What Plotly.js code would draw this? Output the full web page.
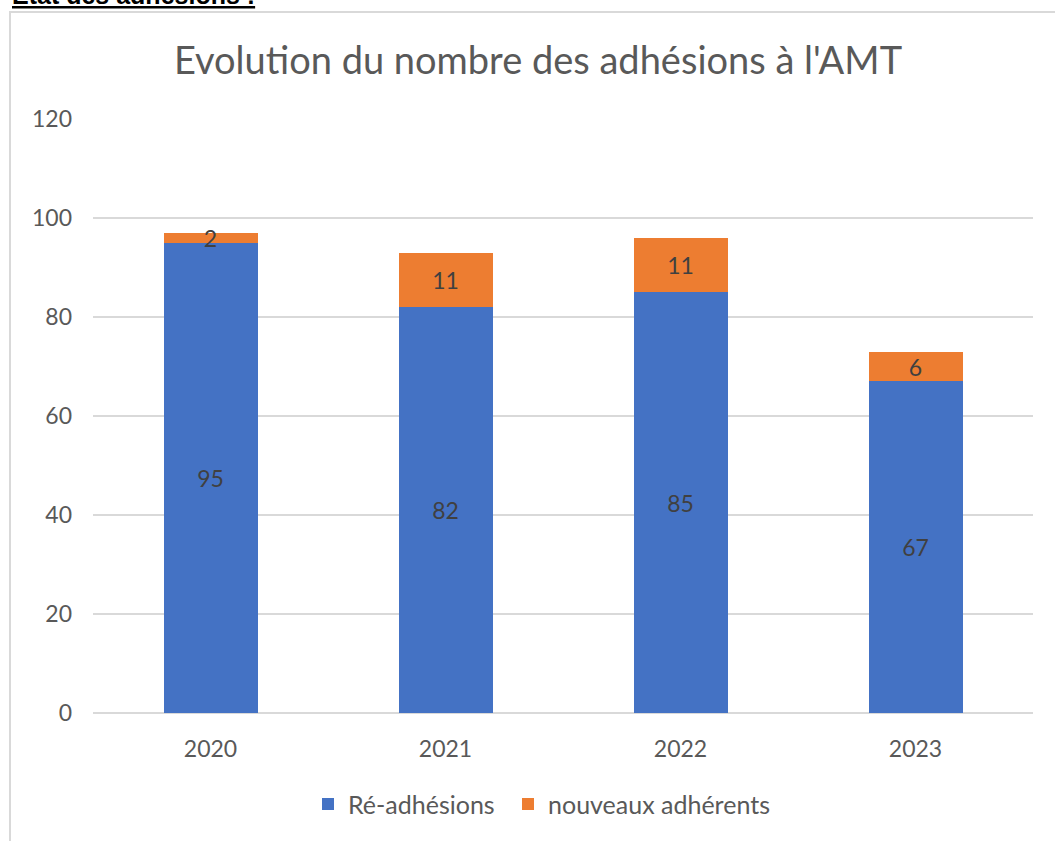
<!DOCTYPE html>
<html>
<head>
<meta charset="utf-8">
<script src="https://cdn.plot.ly/plotly-3.0.1.min.js"></script>
<style>
  html, body { margin: 0; padding: 0; background: #ffffff; }
  #chart { position: absolute; left: 0; top: 0; width: 1055px; height: 841px; }
</style>
</head>
<body>
<div id="chart"></div>
<script>
const years = ['2020', '2021', '2022', '2023'];
const readhesions = [95, 82, 85, 67];
const nouveaux = [2, 11, 11, 6];
const seriesNames = ['Ré-adhésions', 'nouveaux adhérents'];
const chartTitle = "Evolution du nombre des adhésions à l'AMT";
const headerText = 'Etat des adhésions :';
const yTicks = [0, 20, 40, 60, 80, 100, 120];

const FONT = 'Lato, "Open Sans", sans-serif';
const TXT = '#595959';

const traces = [
  {
    type: 'bar', name: seriesNames[0], x: years, y: readhesions,
    marker: { color: '#4472C4' }, legend: 'legend',
    text: readhesions.map(String), textposition: 'inside', insidetextanchor: 'middle',
    textangle: 0,
    textfont: { family: FONT, size: 23, color: '#404040' },
    hoverinfo: 'skip'
  },
  {
    type: 'bar', name: seriesNames[1], x: years, y: nouveaux,
    marker: { color: '#ED7D31' }, legend: 'legend2',
    text: nouveaux.map(String), textposition: 'inside', insidetextanchor: 'middle',
    textangle: 0,
    textfont: { family: FONT, size: 23, color: '#404040' },
    hoverinfo: 'skip'
  }
];

const legendCommon = {
  orientation: 'h', xanchor: 'left', y: -0.115, yanchor: 'top',
  font: { family: FONT, size: 25, color: TXT },
  itemwidth: 30, bgcolor: 'rgba(0,0,0,0)'
};

const layout = {
  width: 1055, height: 841,
  margin: { l: 93, r: 22, t: 119, b: 128 },
  paper_bgcolor: '#ffffff', plot_bgcolor: '#ffffff',
  barmode: 'stack', bargap: 0.6,
  uniformtext: { mode: 'show', minsize: 23 },
  font: { family: FONT, color: TXT, size: 23 },
  title: {
    text: chartTitle,
    font: { family: FONT, size: 38, color: TXT },
    x: 538 / 1055, xanchor: 'center', y: 0.928, yanchor: 'middle'
  },
  xaxis: {
    type: 'category', showgrid: false, zeroline: false,
    showline: false, ticks: '',
    tickfont: { family: FONT, size: 23, color: TXT },
    ticklabelstandoff: 20, fixedrange: true
  },
  yaxis: {
    range: [0, 120], tickvals: yTicks, ticktext: yTicks.map(String),
    showgrid: true, gridcolor: '#D9D9D9', gridwidth: 1.3,
    zeroline: true, zerolinecolor: '#D9D9D9', zerolinewidth: 1.3,
    showline: false, ticks: '',
    tickfont: { family: FONT, size: 23, color: TXT },
    ticklabelstandoff: 20, fixedrange: true
  },
  showlegend: true,
  legend: Object.assign({}, legendCommon, { x: (308 - 93) / 940 }),
  legend2: Object.assign({}, legendCommon, { x: (508 - 93) / 940 }),
  shapes: [
    {
      type: 'rect', xref: 'paper', yref: 'paper',
      x0: (10 - 93) / 940, x1: 1.1, y0: -0.3, y1: (713 - 12) / 594,
      line: { color: '#D9D9D9', width: 2 }, fillcolor: 'rgba(0,0,0,0)', layer: 'below'
    }
  ],
  annotations: [
    {
      text: '<b><u>' + headerText + '</u></b>',
      xref: 'paper', yref: 'paper',
      x: (10 - 93) / 940, xanchor: 'left',
      y: (713 - 11) / 594, yanchor: 'bottom',
      showarrow: false,
      font: { family: 'Liberation Sans, Arial, sans-serif', size: 25, color: '#000000' }
    }
  ]
};

Plotly.newPlot('chart', traces, layout, { displayModeBar: false, staticPlot: true });
</script>
</body>
</html>
